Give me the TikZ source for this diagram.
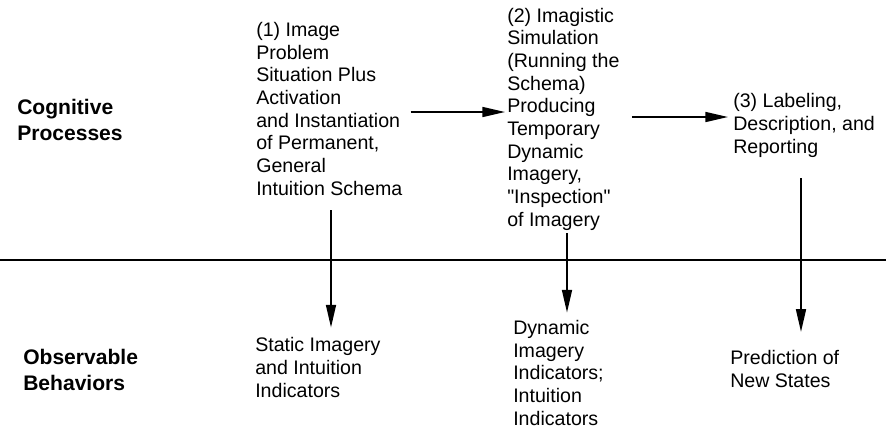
\documentclass[tikz,border=0pt]{standalone}
\usepackage{fontspec}
\setmainfont{Liberation Sans}
\usepackage{tikz}
\usetikzlibrary{arrows.meta, positioning}

\begin{document}
\begin{tikzpicture}[
  x=0.75pt, y=-0.75pt,
  txt/.style={align=left, inner sep=0pt, anchor=base west, font=\fontsize{14.7}{17}\selectfont},
  head/.style={align=left, inner sep=0pt, anchor=base west, font=\fontsize{15.8}{19.5}\selectfont\bfseries},
  arr/.style={-{Triangle[length=17pt, width=7.5pt]}, line width=1.2pt},
  >=Stealth
]
  \useasboundingbox (0,0) rectangle (886,430);

  % row headings and the dividing rule (nodes sit on their last baseline)
  \node[head] (cog) at (17,140) {Cognitive\\Processes};
  \node[head] (obsv) at (23,390) {Observable\\Behaviors};
  \coordinate (ruleL) at (0,260);
  \coordinate (ruleR) at (886,260);
  \draw[line width=1.5pt] (ruleL) -- (ruleR);

  % processes
  \node[txt] (p1) at (256,195) {(1) Image\\Problem\\Situation Plus\\Activation\\and Instantiation\\of Permanent,\\General\\Intuition Schema};
  \node[txt] (p2) at (507,226) {(2) Imagistic\\Simulation\\(Running the\\Schema)\\Producing\\Temporary\\Dynamic\\Imagery,\\\textquotedbl Inspection\textquotedbl\\of Imagery};
  \node[txt] (p3) at (733,153) {(3) Labeling,\\Description, and\\Reporting};

  % behaviors
  \node[txt] (b1) at (255,397) {Static Imagery\\and Intuition\\Indicators};
  \node[txt] (b2) at (513,425) {Dynamic\\Imagery\\Indicators;\\Intuition\\Indicators};
  \node[txt] (b3) at (730,387) {Prediction of\\New States};

  % arrow rows / columns
  \coordinate (r12) at (0,112);
  \coordinate (r23) at (0,117);
  \coordinate (c1) at (331,0);
  \coordinate (c2) at (567,0);
  \coordinate (c3) at (801,0);

  \draw[arr, shorten <=6pt, shorten >=1.5pt] (p1.east |- r12) -- (p2.west |- r12);
  \draw[arr, shorten <=9pt, shorten >=3.75pt] (p2.east |- r23) -- (p3.west |- r23);
  \draw[arr, shorten <=11.25pt, shorten >=7.3pt] (p1.south -| c1) -- (b1.north -| c1);
  \draw[arr, shorten <=2.2pt, shorten >=5.5pt] (p2.south -| c2) -- (b2.north -| c2);
  \draw[arr, shorten <=15.75pt, shorten >=13.5pt] (p3.south -| c3) -- (b3.north -| c3);
\end{tikzpicture}
\end{document}
